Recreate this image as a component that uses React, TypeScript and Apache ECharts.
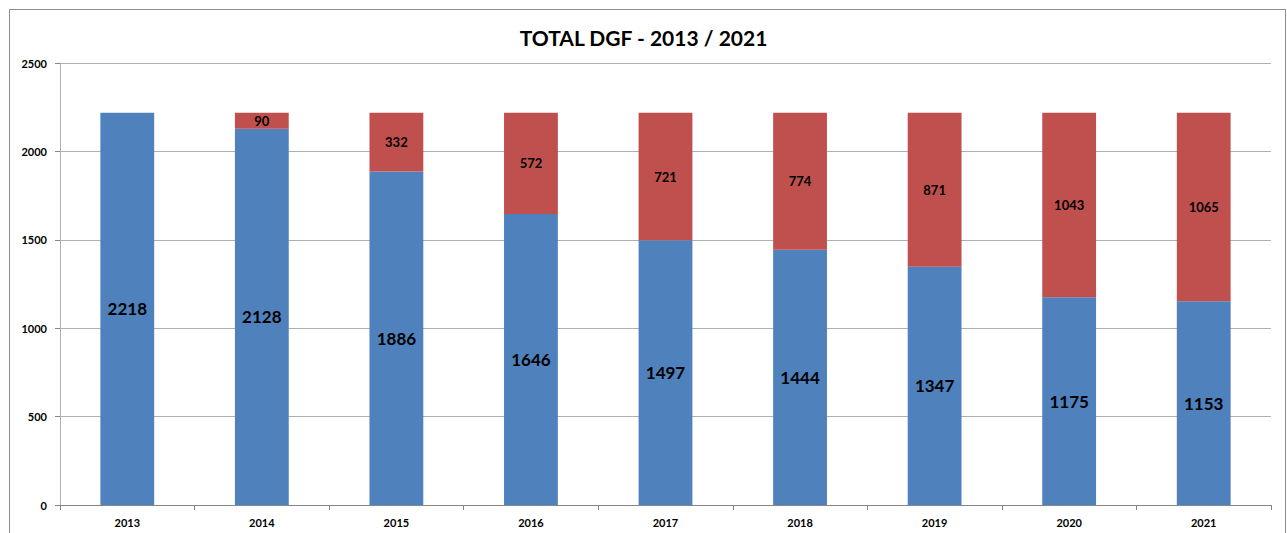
import React, { useEffect, useRef } from "react";
import * as echarts from "echarts";

const categories = ["2013", "2014", "2015", "2016", "2017", "2018", "2019", "2020", "2021"];
const blueValues = [2218, 2128, 1886, 1646, 1497, 1444, 1347, 1175, 1153];
const redValues = [0, 90, 332, 572, 721, 774, 871, 1043, 1065];
const yTicks = { min: 0, max: 2500, interval: 500 };
const titleText = "TOTAL DGF - 2013 / 2021";

const FONT = "Lato, 'Open Sans', sans-serif";

export default function App() {
  const ref = useRef<HTMLDivElement>(null);
  useEffect(() => {
    document.body.style.margin = "0";
    const chart = echarts.init(ref.current!, null, { renderer: "svg" });
    chart.setOption({
      animation: false,
      backgroundColor: "#ffffff",
      title: {
        text: titleText,
        left: "center",
        top: 22,
        textStyle: { fontFamily: FONT, fontWeight: "bold", fontSize: 21, color: "#000" },
      },
      graphic: [
        {
          type: "rect",
          shape: { x: 9.5, y: 9.5, width: 1276, height: 540 },
          style: { fill: "none", stroke: "#8c8c8c", lineWidth: 1 },
          silent: true,
        },
      ],
      grid: { left: 60, right: 16, top: 63, bottom: 28 },
      xAxis: {
        type: "category",
        data: categories,
        axisLine: { lineStyle: { color: "#868686" } },
        axisTick: { show: true, length: 5, lineStyle: { color: "#868686" } },
        axisLabel: { fontFamily: FONT, fontWeight: "bold", fontSize: 11, color: "#000", margin: 12 },
      },
      yAxis: {
        type: "value",
        min: yTicks.min,
        max: yTicks.max,
        interval: yTicks.interval,
        axisLine: { show: true, lineStyle: { color: "#b0b0b0" } },
        axisTick: { show: true, length: 5, lineStyle: { color: "#868686" } },
        axisLabel: {
          fontFamily: FONT,
          fontWeight: "bold",
          fontSize: 11,
          color: "#000",
          margin: 13,
          formatter: (v: number) => String(v),
        },
        splitLine: { lineStyle: { color: "#b0b0b0", width: 1 } },
      },
      series: [
        {
          type: "bar",
          stack: "total",
          data: blueValues,
          barWidth: "40%",
          itemStyle: { color: "#4F81BD" },
          label: {
            show: true,
            position: "inside",
            fontFamily: FONT,
            fontWeight: "bold",
            fontSize: 17,
            color: "#000",
          },
        },
        {
          type: "bar",
          stack: "total",
          data: redValues,
          barWidth: "40%",
          itemStyle: { color: "#C0504D" },
          label: {
            show: true,
            position: "inside",
            fontFamily: FONT,
            fontWeight: "bold",
            fontSize: 13,
            color: "#000",
            formatter: (p: any) => (p.value ? String(p.value) : ""),
          },
        },
      ],
    });
    return () => chart.dispose();
  }, []);
  return <div ref={ref} style={{ width: 1287, height: 533 }} />;
}
